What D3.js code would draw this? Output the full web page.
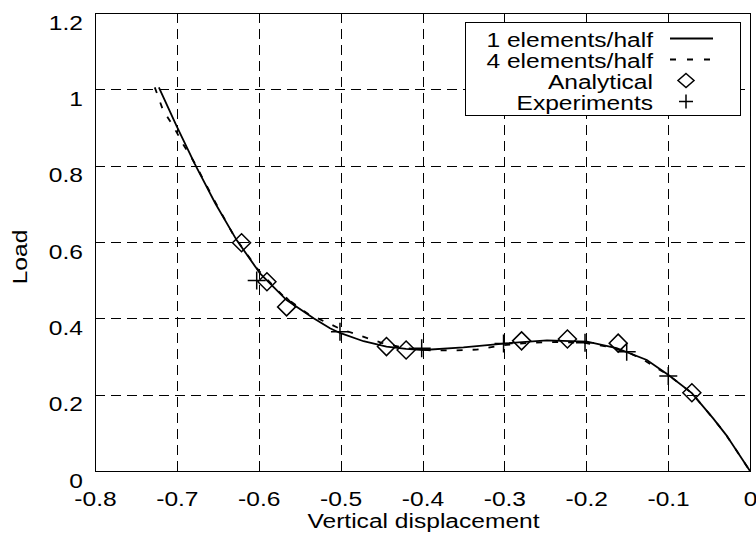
<!DOCTYPE html>
<html>
<head>
<meta charset="utf-8">
<script src="https://cdn.jsdelivr.net/npm/d3@7"></script>
<style>
  body { margin:0; background:#fff; }
  #chart text { font-family:"Liberation Sans", Arial, Helvetica, sans-serif; font-size:21px; fill:#000; }
</style>
</head>
<body>
<div id="chart"></div>
<script>

var oneElemX  = [-0.722,-0.700,-0.678,-0.653,-0.627,-0.5985,-0.566,-0.533,-0.513,-0.500,-0.472,-0.444,-0.420,-0.399,-0.350,-0.301,-0.248,-0.199,-0.163,-0.126,-0.100,-0.071,-0.045,-0.029,0];
var oneElemY  = [1.005,0.902,0.804,0.701,0.605,0.518,0.448,0.400,0.374,0.361,0.340,0.326,0.320,0.317,0.324,0.334,0.342,0.339,0.322,0.291,0.252,0.204,0.138,0.094,0];

var fourElemX = [-0.727,-0.717,-0.704,-0.692,-0.678,-0.655,-0.630,-0.600,-0.570,-0.540,-0.500,-0.470,-0.450,-0.420,-0.390,-0.362,-0.334,-0.300,-0.269,-0.236,-0.200,-0.175,-0.150,-0.130,-0.100,-0.071,-0.045,-0.029,0];
var fourElemY = [1.005,0.946,0.902,0.855,0.806,0.712,0.615,0.525,0.458,0.412,0.372,0.350,0.336,0.322,0.316,0.316,0.318,0.330,0.336,0.338,0.335,0.326,0.312,0.291,0.252,0.204,0.138,0.094,0];

var analyticalX = [-0.621,-0.590,-0.566,-0.444,-0.420,-0.279,-0.223,-0.161,-0.071];
var analyticalY = [0.598,0.496,0.430,0.326,0.317,0.341,0.346,0.335,0.205];

var experimentX = [-0.6025,-0.5008,-0.401,-0.301,-0.2015,-0.1506,-0.0998];
var experimentY = [0.499,0.365,0.3215,0.334,0.336,0.3126,0.249];

var xTicks      = [-0.8,-0.7,-0.6,-0.5,-0.4,-0.3,-0.2,-0.1,0];
var xTickLabels = ["-0.8","-0.7","-0.6","-0.5","-0.4","-0.3","-0.2","-0.1","0"];
var yTicks      = [0,0.2,0.4,0.6,0.8,1,1.2];
var yTickLabels = ["0","0.2","0.4","0.6","0.8","1","1.2"];

var legendLabels = ["1 elements/half","4 elements/half","Analytical","Experiments"];
var xTitle = "Vertical displacement";
var yTitle = "Load";
// -------------------------------------------------------------------------


var margin = {top: 13, right: 6, bottom: 64, left: 95};
var svgWidth  = 756;
var svgHeight = 535;
var width  = svgWidth  - margin.left - margin.right;
var height = svgHeight - margin.top  - margin.bottom;
var stretch = "scale(1.17,1)";     // the original type is set wide

var x = d3.scaleLinear().domain([-0.8,0]).range([0,width]);
var y = d3.scaleLinear().domain([0,1.2]).range([height,0]);

var svg = d3.select("#chart")
  .append("svg")
    .attr("width",svgWidth)
    .attr("height",svgHeight)
  .append("g")
    .attr("transform","translate("+margin.left+","+margin.top+")");


//......................... grid ..........................................
svg.append("g")
  .attr("class","grid")
  .selectAll("line.v")
  .data(xTicks)
  .enter()
  .append("line")
    .attr("x1",function(d){return Math.round(x(d))+0.5})
    .attr("x2",function(d){return Math.round(x(d))+0.5})
    .attr("y1",0)
    .attr("y2",height)
    .attr("stroke","#000")
    .attr("stroke-dasharray","10,6");

svg.select(".grid")
  .selectAll("line.h")
  .data(yTicks)
  .enter()
  .append("line")
    .attr("x1",0)
    .attr("x2",width)
    .attr("y1",function(d){return Math.round(y(d))+0.5})
    .attr("y2",function(d){return Math.round(y(d))+0.5})
    .attr("stroke","#000")
    .attr("stroke-dasharray","10,6");

svg.append("rect")
  .attr("x",0.5)
  .attr("y",0.5)
  .attr("width",Math.round(width))
  .attr("height",Math.round(height))
  .attr("fill","none")
  .attr("stroke","#000");


//......................... axes ..........................................
var xAxis = d3.axisBottom(x)
  .tickValues(xTicks)
  .tickFormat(function(d,i){return xTickLabels[i]})
  .tickSize(0);

var gx = svg.append("g")
  .attr("transform","translate(0,"+height+")")
  .call(xAxis);
gx.select(".domain").remove();
gx.selectAll("text")
  .attr("y",0)
  .attr("dy",0)
  .attr("transform","translate(0,35) "+stretch);

var yAxis = d3.axisLeft(y)
  .tickValues(yTicks)
  .tickFormat(function(d,i){return yTickLabels[i]})
  .tickSize(0);

var gy = svg.append("g").call(yAxis);
gy.select(".domain").remove();
gy.selectAll("text")
  .attr("x",0)
  .attr("dy",0)
  .attr("transform","translate(-12,16) "+stretch);

svg.selectAll(".tick text")
  .attr("font-family",null)
  .attr("font-size",null);

svg.append("text")
  .attr("text-anchor","middle")
  .attr("transform","translate("+(width/2+1)+","+(height+57)+") "+stretch)
  .text(xTitle);

svg.append("text")
  .attr("text-anchor","middle")
  .attr("transform","translate("+(27-margin.left)+",244) rotate(-90) "+stretch)
  .text(yTitle);


//......................... curves ........................................
var line = d3.line()
  .x(function(d){return x(d[0])})
  .y(function(d){return y(d[1])});

svg.append("path")
  .datum(d3.zip(fourElemX,fourElemY))
  .attr("d",line)
  .attr("fill","none")
  .attr("stroke","#000")
  .attr("stroke-width",1.8)
  .attr("stroke-dasharray","6,10");

svg.append("path")
  .datum(d3.zip(oneElemX,oneElemY))
  .attr("d",line)
  .attr("fill","none")
  .attr("stroke","#000")
  .attr("stroke-width",1.8);

var diamond = "M0,-9L9,0L0,9L-9,0Z";
var plus    = "M-9,0H9M0,-9V9";

svg.append("g")
  .selectAll("path")
  .data(d3.zip(analyticalX,analyticalY))
  .enter()
  .append("path")
    .attr("d",diamond)
    .attr("transform",function(d){return "translate("+x(d[0])+","+y(d[1])+")"})
    .attr("fill","none")
    .attr("stroke","#000")
    .attr("stroke-width",1.5);

svg.append("g")
  .selectAll("path")
  .data(d3.zip(experimentX,experimentY))
  .enter()
  .append("path")
    .attr("d",plus)
    .attr("transform",function(d){return "translate("+x(d[0])+","+y(d[1])+")"})
    .attr("fill","none")
    .attr("stroke","#000")
    .attr("stroke-width",1.5);


//......................... legend ........................................
var lg = svg.append("g")
  .attr("transform","translate("+(465-margin.left)+","+(22-margin.top)+")");

lg.append("rect")
  .attr("x",0.5)
  .attr("y",0.5)
  .attr("width",275)
  .attr("height",93)
  .attr("fill","#fff")
  .attr("stroke","#000");

legendLabels.forEach(function(label,i){
  var base = 24.5 + i*21;
  lg.append("text")
    .attr("text-anchor","end")
    .attr("transform","translate(188,"+base+") "+stretch)
    .text(label);

  var cy = base - 8;
  if (i == 0 || i == 1){
    lg.append("line")
      .attr("x1",205).attr("x2",248)
      .attr("y1",cy).attr("y2",cy)
      .attr("stroke","#000")
      .attr("stroke-width",1.8)
      .attr("stroke-dasharray",i == 1 ? "6,11" : null);
  }else{
    lg.append("path")
      .attr("d",i == 2 ? "M0,-7L8,0L0,7L-8,0Z" : "M-7,0H7M0,-7V7")
      .attr("transform","translate(221,"+cy+")")
      .attr("fill","none")
      .attr("stroke","#000")
      .attr("stroke-width",1.5);
  }
});

</script>
</body>
</html>
